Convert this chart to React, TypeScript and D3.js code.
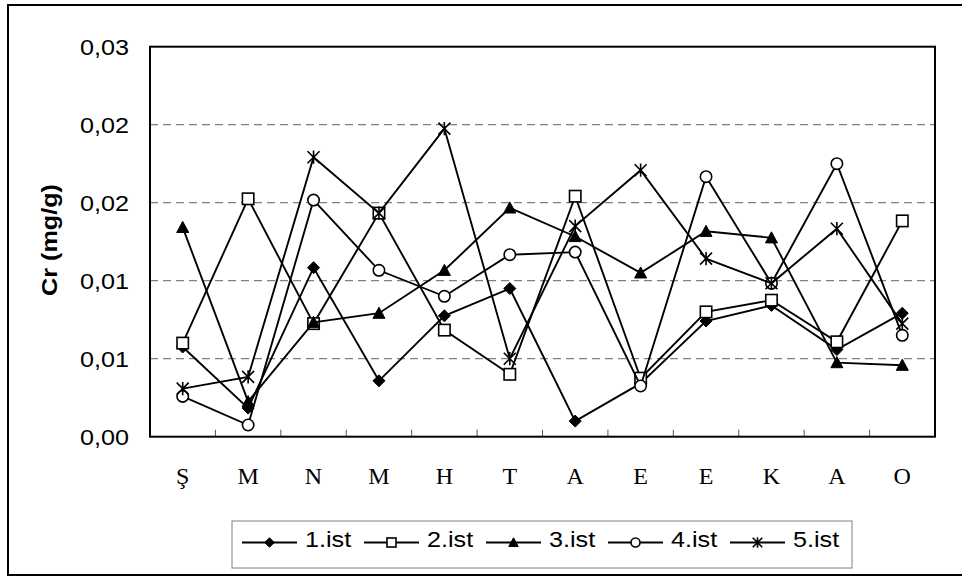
import React from "react";
import * as d3 from "d3";

const categories = ["Ş", "M", "N", "M", "H", "T", "A", "E", "E", "K", "A", "O"];
const seriesNames = ["1.ist", "2.ist", "3.ist", "4.ist", "5.ist"];
const ist1 = [0.0069, 0.0022, 0.013, 0.0043, 0.0093, 0.0114, 0.0012, 0.0041, 0.0089, 0.0101, 0.0067, 0.0095];
const ist2 = [0.0072, 0.0183, 0.0087, 0.0172, 0.0082, 0.0048, 0.0185, 0.0045, 0.0096, 0.0105, 0.0073, 0.0166];
const ist3 = [0.0161, 0.0027, 0.0088, 0.0095, 0.0128, 0.0176, 0.0154, 0.0126, 0.0158, 0.0153, 0.0057, 0.0055];
const ist4 = [0.0031, 0.0009, 0.0182, 0.0128, 0.0108, 0.014, 0.0142, 0.0039, 0.02, 0.0118, 0.021, 0.0078];
const ist5 = [0.0037, 0.0046, 0.0215, 0.0172, 0.0237, 0.006, 0.0162, 0.0205, 0.0137, 0.0118, 0.016, 0.0087];
const yTicks = [0, 0.006, 0.012, 0.018, 0.024, 0.03];
const yTickLabels = ["0,00", "0,01", "0,01", "0,02", "0,02", "0,03"];
const markerTypes = ["diamond", "square", "triangle", "circle", "star"];

const allSeries = [ist1, ist2, ist3, ist4, ist5];

const SANS = "'Liberation Sans', Arial, sans-serif";
const SERIF = "'Liberation Serif', 'Times New Roman', serif";
const SX = 1.12;

function Marker({ type, x, y, s }: { type: string; x: number; y: number; s: number }) {
  const h = s / 2;
  if (type === "diamond") {
    return <path d={`M${x},${y - h}L${x + h},${y}L${x},${y + h}L${x - h},${y}Z`} fill="#000" stroke="#000" strokeWidth={1} />;
  }
  if (type === "square") {
    return <rect x={x - h * 0.95} y={y - h * 0.95} width={s * 0.95} height={s * 0.95} fill="#fff" stroke="#000" strokeWidth={1.6} />;
  }
  if (type === "triangle") {
    return <path d={`M${x},${y - h}L${x + h},${y + h * 0.85}L${x - h},${y + h * 0.85}Z`} fill="#000" stroke="#000" strokeWidth={1} />;
  }
  if (type === "circle") {
    return <circle cx={x} cy={y} r={h * 0.95} fill="#fff" stroke="#000" strokeWidth={1.6} />;
  }
  return (
    <path
      d={`M${x - h},${y - h}L${x + h},${y + h}M${x - h},${y + h}L${x + h},${y - h}M${x},${y - h * 1.1}L${x},${y + h * 1.1}`}
      fill="none"
      stroke="#000"
      strokeWidth={1.6}
    />
  );
}

export default function App() {
  const W = 962;
  const H = 579;
  const left = 150, right = 935, top = 46.7, bottom = 436.7;

  const x = d3.scaleBand<number>().domain(d3.range(categories.length)).range([left, right]).padding(0);
  const cx = (i: number) => (x(i) as number) + x.bandwidth() / 2;
  const y = d3.scaleLinear().domain([0, 0.03]).range([bottom, top]);
  const line = d3.line<number>().x((_, i) => cx(i)).y((d) => y(d));

  const legendX0 = 242;
  const legendStep = 122;

  return (
    <svg width={W} height={H} style={{ position: "absolute", left: 0, top: 0, background: "#fff" }}>
      <rect x={8} y={5} width={980} height={570} fill="#fff" stroke="#000" strokeWidth={2} />
      {yTicks.slice(1, -1).map((t) => (
        <line key={t} x1={left} x2={right} y1={y(t)} y2={y(t)} stroke="#808080" strokeWidth={1.3} strokeDasharray="8,5" />
      ))}
      {d3.range(1, categories.length).map((i) => (
        <line key={i} x1={x(i) as number} x2={x(i) as number} y1={bottom} y2={bottom - 7} stroke="#555" strokeWidth={1} />
      ))}
      <rect x={left} y={top} width={right - left} height={bottom - top} fill="none" stroke="#000" strokeWidth={2} />
      {yTicks.map((t, i) => (
        <text
          key={i}
          transform={`translate(129,${y(t) + 8}) scale(${SX},1)`}
          textAnchor="end"
          fontFamily={SANS}
          fontSize={22.5}
          fill="#000"
        >
          {yTickLabels[i]}
        </text>
      ))}
      <text
        transform={`translate(57,240) rotate(-90) scale(${SX},1)`}
        textAnchor="middle"
        fontFamily={SANS}
        fontWeight="bold"
        fontSize={22.5}
        fill="#000"
      >
        Cr (mg/g)
      </text>
      {categories.map((c, i) => (
        <text key={i} x={cx(i)} y={484} textAnchor="middle" fontFamily={SERIF} fontSize={24} fill="#000">
          {c}
        </text>
      ))}
      {allSeries.map((s, si) => (
        <g key={si}>
          <path d={line(s) as string} fill="none" stroke="#000" strokeWidth={1.9} />
          {s.map((v, i) => (
            <Marker key={i} type={markerTypes[si]} x={cx(i)} y={y(v)} s={12} />
          ))}
        </g>
      ))}
      <rect x={232} y={521} width={620} height={47} fill="#fff" stroke="#808080" strokeWidth={1} />
      {seriesNames.map((n, i) => {
        const lx = legendX0 + i * legendStep;
        return (
          <g key={n}>
            <line x1={lx} x2={lx + 55} y1={542.5} y2={542.5} stroke="#000" strokeWidth={2} />
            <Marker type={markerTypes[i]} x={lx + 27.5} y={542.5} s={9.5} />
            <text
              transform={`translate(${lx + 63},547) scale(${SX},1)`}
              fontFamily={SANS}
              fontSize={22.5}
              fill="#000"
            >
              {n}
            </text>
          </g>
        );
      })}
    </svg>
  );
}
